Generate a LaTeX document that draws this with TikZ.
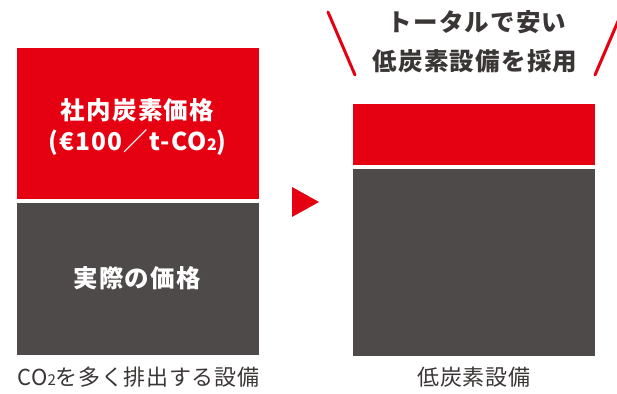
\documentclass[tikz,border=0pt]{standalone}
\usepackage{fontspec}
\setmainfont{Noto Sans CJK JP}
\newfontfamily\jpb[LetterSpace=5]{Noto Sans CJK JP}
\newfontfamily\jpr[LetterSpace=3]{Noto Sans CJK JP}
\definecolor{cred}{HTML}{E50012}
\definecolor{cgray}{HTML}{4E4A49}
\definecolor{ctext}{HTML}{3A3635}
\tikzset{
  redbox/.style={fill=cred, inner sep=0pt, anchor=north west},
  graybox/.style={fill=cgray, inner sep=0pt, anchor=north west},
  boxtext/.style={text=white, font=\jpb\bfseries\fontsize{24.5}{28}\selectfont, inner sep=0pt},
  headtext/.style={text=ctext, font=\jpb\bfseries\fontsize{24.5}{28}\selectfont, inner sep=0pt},
  captext/.style={text=ctext, font=\jpr\fontsize{22}{26}\selectfont, inner sep=0pt},
  slash/.style={draw=cred, line width=3pt, line cap=round}
}
\begin{document}
\begin{tikzpicture}[x=1pt,y=-1pt]
\useasboundingbox (0,0) rectangle (617,393);
% left column
\node[redbox, minimum width=242pt, minimum height=151pt] (lred) at (17,48) {};
\node[graybox, minimum width=242pt, minimum height=152pt] (lgray) at (17,203) {};
\node[boxtext] (lredt1) at (137.5,110) {社内炭素価格};
\node[boxtext] (lredt2) at (137.5,143) {(€100／t-CO{\fontsize{16}{16}\selectfont 2})};
\node[boxtext] (lgrayt) at (137,278) {実際の価格};
\node[captext, anchor=west] (lcap) at (17,377) {CO{\fontsize{15}{15}\selectfont 2}を多く排出する設備};
% arrow
\coordinate (ta) at (292,187);
\coordinate (tb) at (319,202);
\coordinate (tc) at (292,217);
\fill[cred] (ta) -- (tb) -- (tc) -- cycle;
% right column
\node[redbox, minimum width=242pt, minimum height=61pt] (rred) at (353,104) {};
\node[graybox, minimum width=242pt, minimum height=187pt] (rgray) at (353,169) {};
\node[captext] (rcap) at (474,377) {低炭素設備};
\node[headtext] (h1) at (477,22) {トータルで安い};
\node[headtext] (h2) at (475,61) {低炭素設備を採用};
% slashes
\coordinate (s1a) at (328,12);
\coordinate (s1b) at (355,75);
\coordinate (s2a) at (622,12);
\coordinate (s2b) at (595,75);
\draw[slash] (s1a) -- (s1b);
\begin{scope}
\clip (0,0) rectangle (617,393);
\draw[slash] (s2a) -- (s2b);
\end{scope}
\end{tikzpicture}
\end{document}
